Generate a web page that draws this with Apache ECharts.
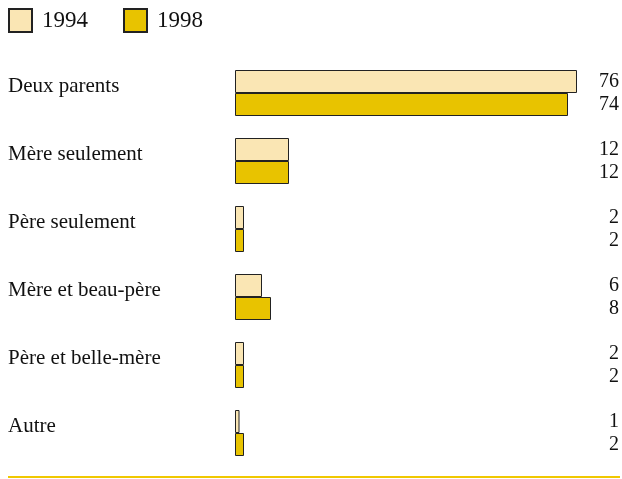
<!DOCTYPE html>
<html>
<head>
<meta charset="utf-8">
<script src="https://cdn.jsdelivr.net/npm/echarts@6/dist/echarts.min.js"></script>
<style>
  html, body { margin: 0; padding: 0; background: #fff; }
  #chart { width: 622px; height: 479px; }
</style>
</head>
<body>
<div id="chart"></div>
<script>
// Family structure shares (%), two survey years
const categories = ['Deux parents', 'Mère seulement', 'Père seulement', 'Mère et beau-père', 'Père et belle-mère', 'Autre'];
const years = ['1994', '1998'];
const values1994 = [76, 12, 2, 6, 2, 1];
const values1998 = [74, 12, 2, 8, 2, 2];

const FONT = "'Liberation Serif', 'Times New Roman', serif";
const LIGHT = '#fae6b4';
const GOLD = '#e8c300';

const chart = echarts.init(document.getElementById('chart'));
chart.setOption({
  animation: false,
  backgroundColor: '#fff',
  legend: {
    left: 8, top: 8, padding: 0,
    itemWidth: 23, itemHeight: 23, itemGap: 35,
    icon: 'rect',
    data: years,
    textStyle: { fontFamily: FONT, fontSize: 23, color: '#111', padding: [0, 0, 0, 5] }
  },
  grid: { left: 235, right: 26, top: 59, bottom: 12 },
  xAxis: {
    type: 'value', min: 0, max: 80,
    show: false
  },
  yAxis: [
    {
      type: 'category', data: categories, inverse: true,
      axisLine: { show: false }, axisTick: { show: false }, splitLine: { show: false },
      axisLabel: {
        align: 'left', margin: 227, verticalAlign: 'bottom', lineHeight: 14,
        fontFamily: FONT, fontSize: 21, color: '#111'
      }
    },
    {
      type: 'category', data: categories, inverse: true, position: 'right',
      axisLine: { show: false }, axisTick: { show: false }, splitLine: { show: false },
      axisLabel: {
        align: 'right', margin: 24,
        fontFamily: FONT, fontSize: 20, color: '#111', lineHeight: 23,
        formatter: function (v, i) { return values1994[i] + '\n' + values1998[i]; }
      }
    }
  ],
  series: [
    {
      name: years[0], type: 'bar', data: values1994,
      barWidth: 23, barGap: '0%',
      itemStyle: { color: LIGHT, borderColor: '#222', borderWidth: 1 }
    },
    {
      name: years[1], type: 'bar', data: values1998,
      barWidth: 23, barGap: '0%',
      itemStyle: { color: GOLD, borderColor: '#222', borderWidth: 1 }
    }
  ],
  graphic: [
    {
      type: 'line', silent: true,
      shape: { x1: 8, y1: 477, x2: 620, y2: 477 },
      style: { stroke: '#f0c800', lineWidth: 2 }
    }
  ]
});
</script>
</body>
</html>
